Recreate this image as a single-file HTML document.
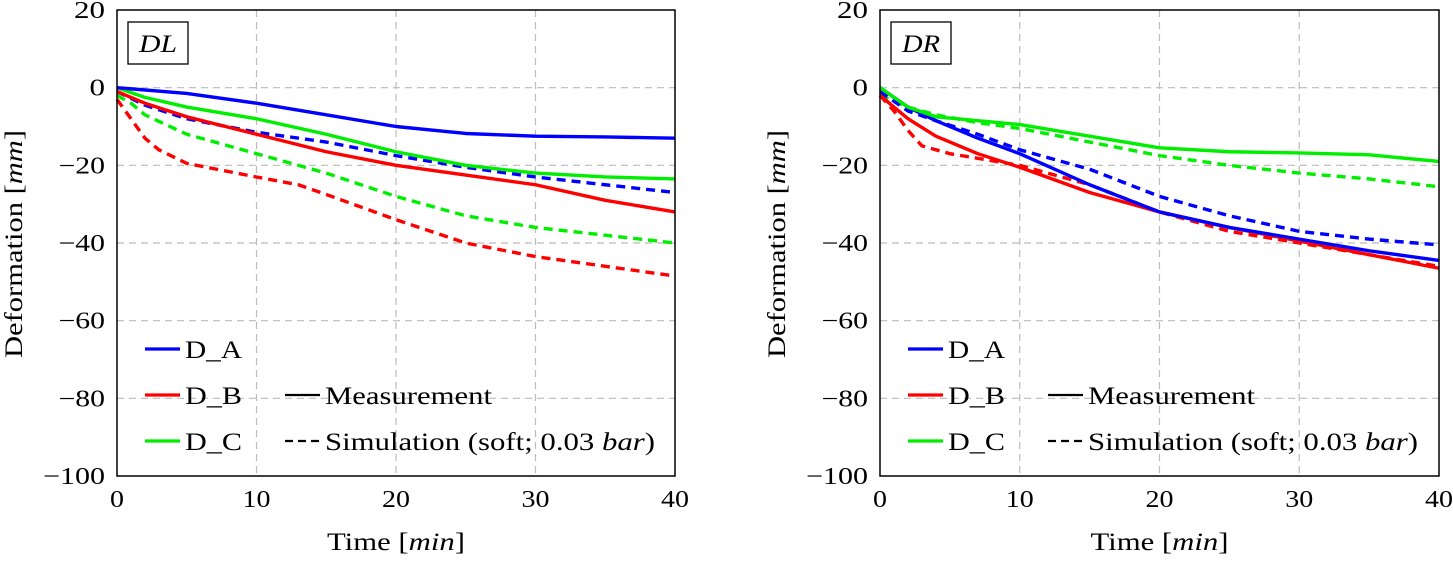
<!DOCTYPE html>
<html><head><meta charset="utf-8"><style>
body{margin:0;background:#fff}
svg text{font-family:"Liberation Serif",serif;fill:#000}
</style></head><body>
<svg id="svg" width="1453" height="558" xmlns="http://www.w3.org/2000/svg"></svg>
<script>
const xTicks=[0,10,20,30,40];
const yTicks=[20,0,-20,-40,-60,-80,-100];
// Left panel (DL)
const dlT_A=[0,5,10,15,20,25,30,35,40], dlA=[0,-1.5,-4,-7,-10,-11.8,-12.5,-12.7,-13];
const dlT_B=[0,2,5,10,15,20,25,30,35,40], dlB=[-1,-4,-7.5,-12,-16.5,-20,-22.5,-25,-29,-32];
const dlT_C=[0,2,5,10,15,20,25,30,35,40], dlC=[0,-2.5,-5,-8,-12,-16.5,-20,-22,-23,-23.5];
const dlT_As=[0,2,5,10,15,20,25,30,35,40], dlAs=[-1,-4.5,-8,-11.5,-14,-17.5,-20.5,-23,-25,-27];
const dlT_Cs=[0,1,2,5,10,15,20,25,30,35,40], dlCs=[-2,-4,-7,-12,-17,-22,-28,-33,-36,-38,-40];
const dlT_Bs=[0,1,2,3,5,10,13,15,20,25,30,35,40], dlBs=[-3,-8,-13,-16,-19.5,-23,-25,-27.5,-34,-40,-43.5,-46,-48.5];
// Right panel (DR)
const drT=[0,2,4,7,10,15,20,25,30,35,40];
const drC=[0,-5,-7.5,-8.5,-9.5,-12.5,-15.5,-16.5,-16.8,-17.3,-19];
const drCs=[-2,-5,-7,-9,-10.5,-14,-17.5,-20,-22,-23.5,-25.5];
const drA=[0,-5,-8.5,-13,-17,-25,-32,-36,-39,-42,-44.5];
const drAs=[-1,-6,-8.5,-12,-16,-21,-28,-33,-37,-39,-40.5];
const drB=[-2,-8,-12.5,-17,-20.5,-27,-32,-36,-39.5,-43,-46.5];
const drT_Bs=[0,1,2,3,5,10,15,20,25,30,35,40], drBs=[-2,-6,-11,-15,-17,-20,-25,-32,-37,-40,-43,-46];

const NS="http://www.w3.org/2000/svg", svg=document.getElementById('svg');
function mk(tag,attrs,parent){const e=document.createElementNS(NS,tag);for(const k in attrs)e.setAttribute(k,attrs[k]);(parent||svg).appendChild(e);return e;}
const COL={A:'#0000ff',B:'#ff0000',C:'#00ee00'};

function panel(x0,x1,title,prefix,series){
  const y0=10,y1=476;
  const sx=v=>x0+(v/40)*(x1-x0), sy=v=>y0+(20-v)/120*(y1-y0);
  const g=mk('g',{});
  
  
  xTicks.forEach(t=>{
    if(t>0&&t<40){const l=mk('line',{x1:sx(t),x2:sx(t),y1:y0,y2:y1,stroke:'#bbb','stroke-width':1.2,'stroke-dasharray':'7 5'},g);
    }
    const s=String(t);
    const tx=mk('text',{x:sx(t),y:507,'font-size':24,'text-anchor':'middle',textLength:s.length*14,lengthAdjust:'spacingAndGlyphs'},g);tx.textContent=s;
    
  });
  yTicks.forEach(t=>{
    if(t<20&&t>-100){const l=mk('line',{x1:x0,x2:x1,y1:sy(t),y2:sy(t),stroke:'#bbb','stroke-width':1.2,'stroke-dasharray':'7 5'},g);
    }
    const s=(t<0?'\u2212'+(-t):String(t));
    const tx=mk('text',{x:x0-12,y:sy(t)+8,'font-size':24,'text-anchor':'end',textLength:s.length*15.5,lengthAdjust:'spacingAndGlyphs'},g);tx.textContent=s;
    
  });
  series.forEach(s=>{
    const p=mk('polyline',{points:s.t.map((t,i)=>sx(t)+','+sy(s.v[i])).join(' '),fill:'none',stroke:COL[s.c],'stroke-width':3.4,'stroke-linejoin':'round','stroke-dasharray':s.d?'9 6':'none'},g);
    
  });
  const fr=mk('rect',{x:x0,y:y0,width:x1-x0,height:y1-y0,fill:'none',stroke:'#000','stroke-width':1.5},g);
  
  const tb=mk('rect',{x:x0+11,y:22,width:60,height:42,fill:'#fff',stroke:'#000','stroke-width':1.3},g);
  
  const tt=mk('text',{x:x0+41,y:52,'font-size':25,'font-style':'italic','text-anchor':'middle',textLength:38,lengthAdjust:'spacingAndGlyphs'},g);tt.textContent=title;
  
  const xl=mk('text',{x:(x0+x1)/2,y:550,'font-size':25,'text-anchor':'middle',textLength:138,lengthAdjust:'spacingAndGlyphs'},g);
  xl.innerHTML='Time [<tspan font-style="italic">min</tspan>]';
  
  const yl=mk('text',{x:0,y:0,'font-size':25,'text-anchor':'middle',textLength:228,lengthAdjust:'spacingAndGlyphs',transform:`translate(${x0-95},244) rotate(-90)`},g);
  yl.innerHTML='Deformation [<tspan font-style="italic">mm</tspan>]';
  
  // legend
  const leg=[['A','D_A',349],['B','D_B',395],['C','D_C',441]];
  leg.forEach(([c,lab,y])=>{
    const l=mk('line',{x1:x0+28,x2:x0+63,y1:y,y2:y,stroke:COL[c],'stroke-width':3.2},g);
    
    const t=mk('text',{x:x0+68,y:y+9,'font-size':25,textLength:57,lengthAdjust:'spacingAndGlyphs'},g);t.textContent=lab;
    
  });
  const m=mk('line',{x1:x0+168,x2:x0+203,y1:395,y2:395,stroke:'#000','stroke-width':2.2},g);
  
  const mt=mk('text',{x:x0+208,y:404,'font-size':25,textLength:167,lengthAdjust:'spacingAndGlyphs'},g);mt.textContent='Measurement';
  
  const sm=mk('line',{x1:x0+168,x2:x0+205,y1:441,y2:441,stroke:'#000','stroke-width':2.2,'stroke-dasharray':'8 5'},g);
  
  const st=mk('text',{x:x0+208,y:450,'font-size':25,textLength:330,lengthAdjust:'spacingAndGlyphs'},g);
  st.innerHTML='Simulation (soft; 0.03 <tspan font-style="italic">bar</tspan>)';
  
}
panel(117,675,'DL','dl',[
  {t:dlT_Bs,v:dlBs,c:'B',d:1,name:'dl-d-b-sim'},
  {t:dlT_Cs,v:dlCs,c:'C',d:1,name:'dl-d-c-sim'},
  {t:dlT_As,v:dlAs,c:'A',d:1,name:'dl-d-a-sim'},
  {t:dlT_B,v:dlB,c:'B',name:'dl-d-b-meas'},
  {t:dlT_C,v:dlC,c:'C',name:'dl-d-c-meas'},
  {t:dlT_A,v:dlA,c:'A',name:'dl-d-a-meas'}]);
panel(880,1439,'DR','dr',[
  {t:drT_Bs,v:drBs,c:'B',d:1,name:'dr-d-b-sim'},
  {t:drT,v:drCs,c:'C',d:1,name:'dr-d-c-sim'},
  {t:drT,v:drAs,c:'A',d:1,name:'dr-d-a-sim'},
  {t:drT,v:drB,c:'B',name:'dr-d-b-meas'},
  {t:drT,v:drA,c:'A',name:'dr-d-a-meas'},
  {t:drT,v:drC,c:'C',name:'dr-d-c-meas'}]);
</script>
</body></html>
